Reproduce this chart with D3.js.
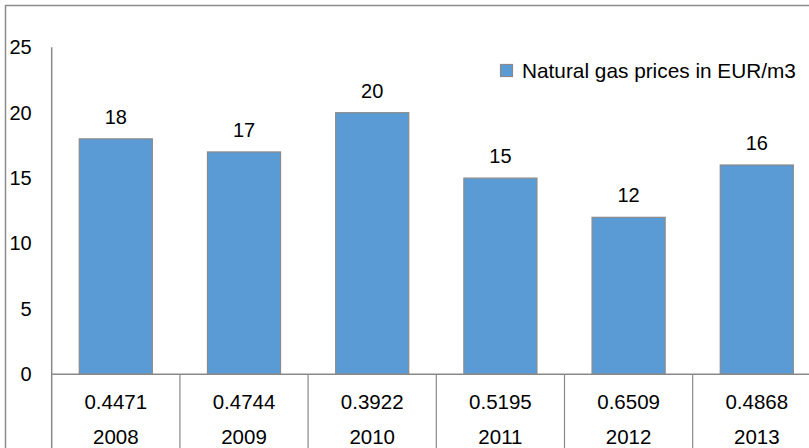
<!DOCTYPE html>
<html>
<head>
<meta charset="utf-8">
<script src="https://cdn.jsdelivr.net/npm/d3@7"></script>
<style>
  html, body { margin: 0; padding: 0; background: #fff; }
  svg { display: block; font-family: "Liberation Sans", Arial, sans-serif; }
</style>
</head>
<body>
<svg id="chart" width="809" height="448"></svg>
<script>
const years = ["2008", "2009", "2010", "2011", "2012", "2013"];
const prices = ["0.4471", "0.4744", "0.3922", "0.5195", "0.6509", "0.4868"];
const values = [18, 17, 20, 15, 12, 16];
const yTicks = [0, 5, 10, 15, 20, 25];
const seriesName = "Natural gas prices in EUR/m3";

const svg = d3.select("#chart");
const W = 809, H = 448;
const left = 51.7, step = 128.2, baseY = 374.3, topY = 47.3;
const lineColor = "#898989";
const barFill = "#5b9bd5";

const x = d3.scaleBand()
  .domain(years)
  .range([left, left + step * years.length])
  .paddingInner(0.43)
  .paddingOuter(0.215);
const y = d3.scaleLinear().domain([0, 25]).range([baseY, topY]);

// outer chart border (extends past right and bottom)
svg.append("rect")
  .attr("x", 5.5).attr("y", 5.5)
  .attr("width", W + 20).attr("height", H + 20)
  .attr("fill", "none").attr("stroke", "#8c8c8c").attr("stroke-width", 1.5);

// y-axis ticks (labels only)
const yAxis = d3.axisLeft(y).tickValues(yTicks).tickSize(0).tickPadding(20);
const gy = svg.append("g").attr("transform", `translate(${left},0)`).call(yAxis);
gy.select(".domain").remove();
gy.selectAll("text")
  .attr("font-size", "20px").attr("fill", "#000")
  .attr("font-family", "Liberation Sans, Arial, sans-serif");

// bars
svg.append("g").selectAll("rect").data(values).join("rect")
  .attr("x", (d, i) => x(years[i]))
  .attr("y", d => y(d))
  .attr("width", x.bandwidth())
  .attr("height", d => y(0) - y(d))
  .attr("fill", barFill)
  .attr("stroke", "#8a8a8a").attr("stroke-width", 1.2);

// data labels
svg.append("g").selectAll("text").data(values).join("text")
  .attr("x", (d, i) => x(years[i]) + x.bandwidth() / 2)
  .attr("y", d => y(d) - 22)
  .attr("dy", "0.35em")
  .attr("text-anchor", "middle")
  .attr("font-size", "20px").attr("fill", "#000")
  .text(d => d);

// y axis line (continues down through category table)
svg.append("line")
  .attr("x1", left).attr("x2", left)
  .attr("y1", topY).attr("y2", H + 5)
  .attr("stroke", lineColor).attr("stroke-width", 1.5);

// baseline
svg.append("line")
  .attr("x1", left).attr("x2", W + 5)
  .attr("y1", baseY).attr("y2", baseY)
  .attr("stroke", lineColor).attr("stroke-width", 1.5);

// category dividers
const bounds = years.map((d, i) => left + step * (i + 1));
svg.append("g").selectAll("line").data(bounds).join("line")
  .attr("x1", d => d).attr("x2", d => d)
  .attr("y1", baseY).attr("y2", H + 5)
  .attr("stroke", lineColor).attr("stroke-width", 1.2);

// two-level category labels
const gx = svg.append("g");
gx.selectAll("text.price").data(prices).join("text")
  .attr("class", "price")
  .attr("x", (d, i) => x(years[i]) + x.bandwidth() / 2)
  .attr("y", 401.7).attr("dy", "0.35em")
  .attr("text-anchor", "middle")
  .attr("font-size", "20.5px").attr("fill", "#000")
  .text(d => d);
gx.selectAll("text.year").data(years).join("text")
  .attr("class", "year")
  .attr("x", d => x(d) + x.bandwidth() / 2)
  .attr("y", 437).attr("dy", "0.35em")
  .attr("text-anchor", "middle")
  .attr("font-size", "20.5px").attr("fill", "#000")
  .text(d => d);

// legend
const lg = svg.append("g").attr("transform", "translate(500,70.5)");
lg.append("rect")
  .attr("x", 0.5).attr("y", -6).attr("width", 12).attr("height", 12)
  .attr("fill", barFill).attr("stroke", "#8a8a8a").attr("stroke-width", 1.2);
lg.append("text")
  .attr("x", 22).attr("y", 0).attr("dy", "0.35em")
  .attr("font-size", "20.8px").attr("fill", "#000")
  .text(seriesName);
</script>
</body>
</html>
